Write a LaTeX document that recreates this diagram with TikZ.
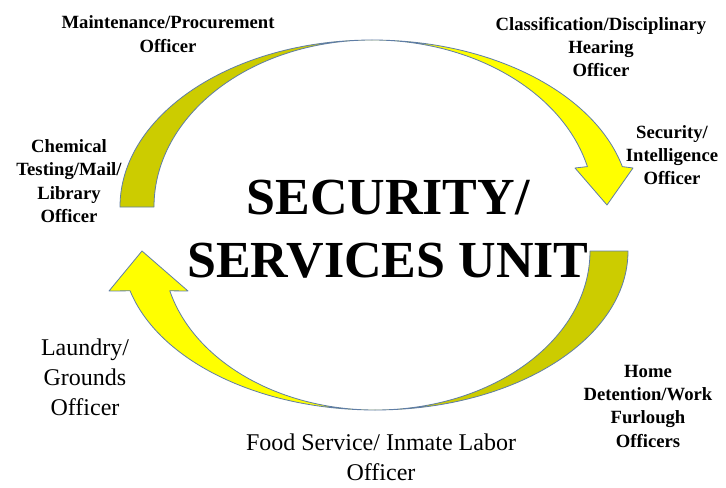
\documentclass[tikz,border=0pt]{standalone}
\usepackage{fontspec}
\setmainfont{Liberation Serif}
\definecolor{arrowolive}{RGB}{204,204,0}
\definecolor{arrowyellow}{RGB}{255,255,0}
\definecolor{arrowline}{RGB}{95,125,165}

\begin{document}
\begin{tikzpicture}
      [x=0.75pt, y=0.75pt,
       band/.style={draw=arrowline, line width=0.6pt, line join=round},
       lab/.style={align=center, inner sep=0pt, font=\bfseries\fontsize{14}{17.5}\selectfont},
       biglab/.style={align=center, inner sep=0pt, font=\fontsize{18}{22.5}\selectfont}]
      \useasboundingbox (0,0) rectangle (726,487);

      % upper arrow, left to right
      \path [band, fill=arrowolive] (120,280)
            arc [start angle=180, end angle=90, x radius=252, y radius=167]
            arc [start angle=90, end angle=180, x radius=218, y radius=167] -- cycle;
      \path [band, fill=arrowyellow] (372,447)
            arc [start angle=90, end angle=14, x radius=258, y radius=167]
            -- (633,319) -- (607,282) -- (575,319) -- (587.4,320.4)
            arc [start angle=14, end angle=90, x radius=222, y radius=167] -- cycle;

      % lower arrow, right to left
      \path [band, fill=arrowolive] (628,236)
            arc [start angle=0, end angle=-90, x radius=253, y radius=159]
            arc [start angle=-90, end angle=0, x radius=215, y radius=159] -- cycle;
      \path [band, fill=arrowyellow] (375,77)
            arc [start angle=270, end angle=194.5, x radius=253, y radius=159]
            -- (109,196) -- (142,236) -- (188,196) -- (169.8,196.2)
            arc [start angle=194.5, end angle=270, x radius=212, y radius=159] -- cycle;

      \node [align=center, inner sep=0pt, font=\bfseries\fontsize{39}{47}\selectfont]
            (unit) at (388,258) {SECURITY/\\SERVICES UNIT};

      \node [lab] (maint)    at (168,453) {Maintenance/Procurement\\Officer};
      \node [lab] (classif)  at (601,440) {Classification/Disciplinary\\Hearing\\Officer};
      \node [lab] (secint)   at (672,332) {Security/\\Intelligence\\Officer};
      \node [lab] (chem)     at ( 69,306) {Chemical\\Testing/Mail/\\Library\\Officer};
      \node [lab] (home)     at (648, 81) {Home\\Detention/Work\\Furlough\\Officers};
      \node [biglab] (laundry) at ( 85,110) {Laundry/\\Grounds\\Officer};
      \node [biglab] (food)    at (381, 30) {Food Service/ Inmate Labor\\Officer};
    \end{tikzpicture}
\end{document}
